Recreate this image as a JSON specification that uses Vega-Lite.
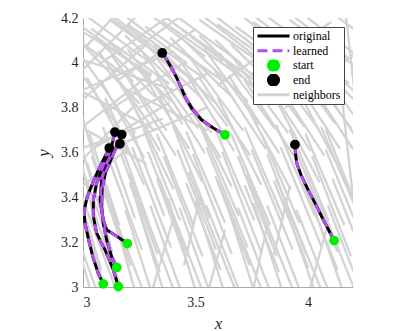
{
  "$schema": "https://vega.github.io/schema/vega-lite/v6.json",
  "width": 270,
  "height": 269,
  "autosize": "none",
  "padding": {"left": 83, "top": 18, "right": 66, "bottom": 44},
  "background": "white",
  "config": {
    "view": {"stroke": null},
    "font": "Liberation Serif",
    "axis": {
      "domainColor": "#a8a8a8",
      "domainWidth": 1,
      "ticks": false,
      "grid": false,
      "labelFont": "Liberation Serif",
      "labelFontSize": 14,
      "labelColor": "#262626",
      "titleFont": "Liberation Serif",
      "titleFontSize": 17,
      "titleFontStyle": "italic",
      "titleFontWeight": "normal",
      "titleColor": "#262626"
    },
    "legend": {
      "title": null,
      "orient": "top-right",
      "offset": 9,
      "padding": 3,
      "strokeColor": "#444444",
      "fillColor": "white",
      "symbolType": "stroke",
      "symbolSize": 1024,
      "symbolStrokeWidth": 3,
      "clipHeight": 12,
      "labelFont": "Liberation Serif",
      "labelFontSize": 12,
      "labelColor": "black",
      "labelOffset": 2,
      "rowPadding": 2.7
    }
  },
  "datasets": {
    "nb": [
      {"x": 3.04, "y": 2.96, "x2": 2.94, "y2": 3.32},
      {"x": 3.11, "y": 2.95, "x2": 2.99, "y2": 3.36},
      {"x": 3.18, "y": 2.97, "x2": 3.05, "y2": 3.33},
      {"x": 3.24, "y": 2.95, "x2": 3.12, "y2": 3.38},
      {"x": 3.31, "y": 2.96, "x2": 3.19, "y2": 3.34},
      {"x": 3.37, "y": 2.94, "x2": 3.24, "y2": 3.37},
      {"x": 3.44, "y": 2.97, "x2": 3.30, "y2": 3.36},
      {"x": 3.51, "y": 2.95, "x2": 3.38, "y2": 3.39},
      {"x": 3.57, "y": 2.96, "x2": 3.43, "y2": 3.35},
      {"x": 3.64, "y": 2.94, "x2": 3.50, "y2": 3.38},
      {"x": 3.70, "y": 2.97, "x2": 3.55, "y2": 3.36},
      {"x": 3.77, "y": 2.95, "x2": 3.63, "y2": 3.40},
      {"x": 3.84, "y": 2.96, "x2": 3.69, "y2": 3.35},
      {"x": 3.90, "y": 2.94, "x2": 3.76, "y2": 3.37},
      {"x": 3.97, "y": 2.97, "x2": 3.82, "y2": 3.36},
      {"x": 4.04, "y": 2.95, "x2": 3.89, "y2": 3.39},
      {"x": 4.10, "y": 2.96, "x2": 3.95, "y2": 3.34},
      {"x": 4.17, "y": 2.94, "x2": 4.02, "y2": 3.37},
      {"x": 4.24, "y": 2.97, "x2": 4.09, "y2": 3.36},
      {"x": 3.08, "y": 3.08, "x2": 2.97, "y2": 3.45},
      {"x": 3.21, "y": 3.10, "x2": 3.09, "y2": 3.47},
      {"x": 3.34, "y": 3.07, "x2": 3.21, "y2": 3.46},
      {"x": 3.47, "y": 3.09, "x2": 3.33, "y2": 3.48},
      {"x": 3.61, "y": 3.08, "x2": 3.46, "y2": 3.46},
      {"x": 3.74, "y": 3.10, "x2": 3.59, "y2": 3.49},
      {"x": 3.87, "y": 3.07, "x2": 3.72, "y2": 3.45},
      {"x": 4.00, "y": 3.09, "x2": 3.85, "y2": 3.47},
      {"x": 4.13, "y": 3.08, "x2": 3.98, "y2": 3.46},
      {"x": 4.26, "y": 3.10, "x2": 4.11, "y2": 3.48},
      {"x": 3.09, "y": 3.30, "x2": 2.97, "y2": 3.70},
      {"x": 3.16, "y": 3.28, "x2": 3.03, "y2": 3.68},
      {"x": 3.23, "y": 3.31, "x2": 3.09, "y2": 3.71},
      {"x": 3.29, "y": 3.29, "x2": 3.15, "y2": 3.69},
      {"x": 3.36, "y": 3.32, "x2": 3.21, "y2": 3.72},
      {"x": 3.43, "y": 3.30, "x2": 3.27, "y2": 3.70},
      {"x": 3.49, "y": 3.28, "x2": 3.33, "y2": 3.68},
      {"x": 3.56, "y": 3.31, "x2": 3.40, "y2": 3.72},
      {"x": 3.63, "y": 3.29, "x2": 3.46, "y2": 3.69},
      {"x": 3.69, "y": 3.32, "x2": 3.52, "y2": 3.72},
      {"x": 3.76, "y": 3.30, "x2": 3.59, "y2": 3.70},
      {"x": 3.83, "y": 3.28, "x2": 3.66, "y2": 3.68},
      {"x": 3.89, "y": 3.31, "x2": 3.72, "y2": 3.71},
      {"x": 3.96, "y": 3.29, "x2": 3.79, "y2": 3.69},
      {"x": 4.03, "y": 3.32, "x2": 3.86, "y2": 3.72},
      {"x": 4.09, "y": 3.30, "x2": 3.92, "y2": 3.70},
      {"x": 4.16, "y": 3.28, "x2": 3.99, "y2": 3.68},
      {"x": 4.23, "y": 3.31, "x2": 4.06, "y2": 3.71},
      {"x": 3.27, "y": 3.46, "x2": 3.10, "y2": 3.84},
      {"x": 3.40, "y": 3.44, "x2": 3.22, "y2": 3.82},
      {"x": 3.53, "y": 3.47, "x2": 3.34, "y2": 3.85},
      {"x": 3.66, "y": 3.45, "x2": 3.47, "y2": 3.83},
      {"x": 3.79, "y": 3.46, "x2": 3.60, "y2": 3.84},
      {"x": 3.92, "y": 3.44, "x2": 3.72, "y2": 3.82},
      {"x": 4.05, "y": 3.47, "x2": 3.85, "y2": 3.85},
      {"x": 4.18, "y": 3.45, "x2": 3.98, "y2": 3.83},
      {"x": 3.20, "y": 3.60, "x2": 3.02, "y2": 3.93},
      {"x": 3.27, "y": 3.58, "x2": 3.08, "y2": 3.92},
      {"x": 3.34, "y": 3.61, "x2": 3.14, "y2": 3.95},
      {"x": 3.41, "y": 3.59, "x2": 3.20, "y2": 3.93},
      {"x": 3.47, "y": 3.62, "x2": 3.26, "y2": 3.96},
      {"x": 3.54, "y": 3.60, "x2": 3.33, "y2": 3.94},
      {"x": 3.61, "y": 3.58, "x2": 3.40, "y2": 3.92},
      {"x": 3.67, "y": 3.61, "x2": 3.46, "y2": 3.95},
      {"x": 3.74, "y": 3.59, "x2": 3.52, "y2": 3.93},
      {"x": 3.81, "y": 3.62, "x2": 3.59, "y2": 3.96},
      {"x": 3.87, "y": 3.60, "x2": 3.65, "y2": 3.94},
      {"x": 3.94, "y": 3.58, "x2": 3.72, "y2": 3.92},
      {"x": 4.01, "y": 3.61, "x2": 3.79, "y2": 3.95},
      {"x": 4.07, "y": 3.59, "x2": 3.85, "y2": 3.93},
      {"x": 4.14, "y": 3.62, "x2": 3.92, "y2": 3.96},
      {"x": 4.21, "y": 3.60, "x2": 3.99, "y2": 3.94},
      {"x": 4.27, "y": 3.58, "x2": 4.05, "y2": 3.92},
      {"x": 3.25, "y": 3.82, "x2": 3.00, "y2": 4.08},
      {"x": 3.32, "y": 3.85, "x2": 3.06, "y2": 4.11},
      {"x": 3.39, "y": 3.83, "x2": 3.12, "y2": 4.09},
      {"x": 3.46, "y": 3.86, "x2": 3.19, "y2": 4.12},
      {"x": 3.53, "y": 3.84, "x2": 3.26, "y2": 4.10},
      {"x": 3.59, "y": 3.82, "x2": 3.32, "y2": 4.08},
      {"x": 3.66, "y": 3.85, "x2": 3.39, "y2": 4.11},
      {"x": 3.73, "y": 3.83, "x2": 3.46, "y2": 4.09},
      {"x": 3.79, "y": 3.86, "x2": 3.52, "y2": 4.12},
      {"x": 3.86, "y": 3.84, "x2": 3.59, "y2": 4.10},
      {"x": 3.93, "y": 3.82, "x2": 3.66, "y2": 4.08},
      {"x": 3.99, "y": 3.85, "x2": 3.72, "y2": 4.11},
      {"x": 4.06, "y": 3.83, "x2": 3.79, "y2": 4.09},
      {"x": 4.13, "y": 3.86, "x2": 3.86, "y2": 4.12},
      {"x": 4.20, "y": 3.84, "x2": 3.93, "y2": 4.10},
      {"x": 4.26, "y": 3.82, "x2": 3.99, "y2": 4.08},
      {"x": 3.30, "y": 4.00, "x2": 3.00, "y2": 4.22},
      {"x": 3.38, "y": 4.02, "x2": 3.08, "y2": 4.25},
      {"x": 3.46, "y": 4.00, "x2": 3.16, "y2": 4.23},
      {"x": 3.54, "y": 4.03, "x2": 3.24, "y2": 4.26},
      {"x": 3.62, "y": 4.01, "x2": 3.32, "y2": 4.24},
      {"x": 3.70, "y": 4.00, "x2": 3.40, "y2": 4.22},
      {"x": 3.78, "y": 4.02, "x2": 3.48, "y2": 4.25},
      {"x": 3.86, "y": 4.00, "x2": 3.56, "y2": 4.23},
      {"x": 3.94, "y": 4.03, "x2": 3.64, "y2": 4.26},
      {"x": 4.02, "y": 4.01, "x2": 3.72, "y2": 4.24},
      {"x": 4.10, "y": 4.00, "x2": 3.80, "y2": 4.22},
      {"x": 4.18, "y": 4.02, "x2": 3.88, "y2": 4.25},
      {"x": 4.26, "y": 4.00, "x2": 3.96, "y2": 4.23},
      {"x": 2.98, "y": 3.55, "x2": 3.22, "y2": 3.80},
      {"x": 2.98, "y": 3.70, "x2": 3.30, "y2": 3.95},
      {"x": 2.98, "y": 3.82, "x2": 3.28, "y2": 4.08},
      {"x": 2.98, "y": 3.95, "x2": 3.25, "y2": 4.22},
      {"x": 3.02, "y": 4.08, "x2": 3.15, "y2": 4.22},
      {"x": 3.05, "y": 3.62, "x2": 3.38, "y2": 3.82},
      {"x": 3.10, "y": 3.78, "x2": 3.45, "y2": 4.00},
      {"x": 3.15, "y": 3.92, "x2": 3.50, "y2": 4.15},
      {"x": 3.22, "y": 4.05, "x2": 3.45, "y2": 4.22},
      {"x": 3.32, "y": 3.70, "x2": 2.98, "y2": 3.88},
      {"x": 3.40, "y": 3.88, "x2": 2.98, "y2": 4.02},
      {"x": 3.30, "y": 3.95, "x2": 2.98, "y2": 4.15},
      {"x": 3.28, "y": 3.55, "x2": 2.98, "y2": 3.72},
      {"x": 3.05, "y": 3.30, "x2": 2.98, "y2": 3.62},
      {"x": 3.10, "y": 3.40, "x2": 3.00, "y2": 3.75},
      {"x": 3.12, "y": 3.20, "x2": 3.02, "y2": 3.55},
      {"x": 3.60, "y": 3.90, "x2": 3.95, "y2": 4.15},
      {"x": 3.75, "y": 3.95, "x2": 4.10, "y2": 4.18},
      {"x": 3.90, "y": 3.80, "x2": 4.22, "y2": 4.05},
      {"x": 4.20, "y": 3.40, "x2": 4.15, "y2": 3.85},
      {"x": 4.22, "y": 3.75, "x2": 4.17, "y2": 4.20},
      {"x": 3.13, "y": 3.16, "x2": 2.97, "y2": 3.60},
      {"x": 3.19, "y": 3.14, "x2": 3.04, "y2": 3.58},
      {"x": 3.26, "y": 3.17, "x2": 3.10, "y2": 3.61},
      {"x": 3.33, "y": 3.15, "x2": 3.17, "y2": 3.59},
      {"x": 3.39, "y": 3.18, "x2": 3.22, "y2": 3.62},
      {"x": 3.46, "y": 3.16, "x2": 3.29, "y2": 3.60},
      {"x": 3.53, "y": 3.14, "x2": 3.36, "y2": 3.58},
      {"x": 3.59, "y": 3.17, "x2": 3.42, "y2": 3.61},
      {"x": 3.66, "y": 3.15, "x2": 3.49, "y2": 3.59},
      {"x": 3.73, "y": 3.18, "x2": 3.55, "y2": 3.62},
      {"x": 3.79, "y": 3.16, "x2": 3.62, "y2": 3.60},
      {"x": 3.86, "y": 3.14, "x2": 3.69, "y2": 3.58},
      {"x": 3.93, "y": 3.17, "x2": 3.75, "y2": 3.61},
      {"x": 3.99, "y": 3.15, "x2": 3.82, "y2": 3.59},
      {"x": 4.06, "y": 3.18, "x2": 3.88, "y2": 3.62},
      {"x": 4.13, "y": 3.16, "x2": 3.95, "y2": 3.60},
      {"x": 4.19, "y": 3.14, "x2": 4.02, "y2": 3.58},
      {"x": 4.26, "y": 3.17, "x2": 4.08, "y2": 3.61},
      {"x": 3.07, "y": 2.96, "x2": 2.88, "y2": 3.48},
      {"x": 3.15, "y": 2.98, "x2": 2.96, "y2": 3.50},
      {"x": 3.28, "y": 2.95, "x2": 3.08, "y2": 3.47},
      {"x": 3.41, "y": 2.97, "x2": 3.21, "y2": 3.50},
      {"x": 3.54, "y": 2.96, "x2": 3.34, "y2": 3.48},
      {"x": 3.68, "y": 2.98, "x2": 3.47, "y2": 3.51},
      {"x": 3.81, "y": 2.95, "x2": 3.60, "y2": 3.47},
      {"x": 3.94, "y": 2.97, "x2": 3.73, "y2": 3.50},
      {"x": 4.07, "y": 2.96, "x2": 3.86, "y2": 3.48},
      {"x": 4.21, "y": 2.98, "x2": 4.00, "y2": 3.51},
      {"x": 4.28, "y": 3.20, "x2": 4.08, "y2": 3.70},
      {"x": 3.16, "y": 3.71, "x2": 2.94, "y2": 4.03},
      {"x": 3.23, "y": 3.69, "x2": 3.00, "y2": 4.02},
      {"x": 3.30, "y": 3.72, "x2": 3.07, "y2": 4.05},
      {"x": 3.37, "y": 3.70, "x2": 3.13, "y2": 4.03},
      {"x": 3.44, "y": 3.73, "x2": 3.20, "y2": 4.06},
      {"x": 3.51, "y": 3.71, "x2": 3.27, "y2": 4.04},
      {"x": 3.57, "y": 3.69, "x2": 3.33, "y2": 4.02},
      {"x": 3.64, "y": 3.72, "x2": 3.40, "y2": 4.05},
      {"x": 3.71, "y": 3.70, "x2": 3.47, "y2": 4.03},
      {"x": 3.78, "y": 3.73, "x2": 3.54, "y2": 4.06},
      {"x": 3.85, "y": 3.71, "x2": 3.61, "y2": 4.04},
      {"x": 3.91, "y": 3.69, "x2": 3.67, "y2": 4.02},
      {"x": 3.98, "y": 3.72, "x2": 3.74, "y2": 4.05},
      {"x": 4.05, "y": 3.70, "x2": 3.81, "y2": 4.03},
      {"x": 4.12, "y": 3.73, "x2": 3.88, "y2": 4.06},
      {"x": 4.19, "y": 3.71, "x2": 3.95, "y2": 4.04},
      {"x": 4.26, "y": 3.69, "x2": 4.02, "y2": 4.02},
      {"x": 3.22, "y": 3.92, "x2": 2.90, "y2": 4.16},
      {"x": 3.30, "y": 3.94, "x2": 2.97, "y2": 4.18},
      {"x": 3.38, "y": 3.91, "x2": 3.04, "y2": 4.15},
      {"x": 3.46, "y": 3.95, "x2": 3.12, "y2": 4.19},
      {"x": 3.54, "y": 3.93, "x2": 3.20, "y2": 4.17},
      {"x": 3.62, "y": 3.92, "x2": 3.28, "y2": 4.16},
      {"x": 3.70, "y": 3.94, "x2": 3.36, "y2": 4.18},
      {"x": 3.78, "y": 3.91, "x2": 3.44, "y2": 4.15},
      {"x": 3.86, "y": 3.95, "x2": 3.52, "y2": 4.19},
      {"x": 3.94, "y": 3.93, "x2": 3.60, "y2": 4.17},
      {"x": 4.02, "y": 3.92, "x2": 3.68, "y2": 4.16},
      {"x": 4.10, "y": 3.94, "x2": 3.76, "y2": 4.18},
      {"x": 4.18, "y": 3.91, "x2": 3.84, "y2": 4.15},
      {"x": 4.26, "y": 3.95, "x2": 3.92, "y2": 4.19},
      {"x": 4.30, "y": 4.08, "x2": 4.00, "y2": 4.30},
      {"x": 3.00, "y": 3.62, "x2": 3.35, "y2": 3.75},
      {"x": 3.00, "y": 3.88, "x2": 3.40, "y2": 4.05},
      {"x": 3.08, "y": 4.00, "x2": 3.40, "y2": 4.22},
      {"x": 3.20, "y": 3.65, "x2": 3.55, "y2": 3.80},
      {"x": 3.25, "y": 3.80, "x2": 3.55, "y2": 3.95},
      {"x": 3.45, "y": 3.95, "x2": 3.10, "y2": 4.22},
      {"x": 3.55, "y": 3.70, "x2": 3.20, "y2": 3.88},
      {"x": 3.00, "y": 3.45, "x2": 3.20, "y2": 3.62},
      {"x": 3.30, "y": 2.96, "x2": 3.40, "y2": 3.30},
      {"x": 3.55, "y": 2.96, "x2": 3.63, "y2": 3.25},
      {"x": 3.75, "y": 2.96, "x2": 3.82, "y2": 3.28},
      {"x": 4.00, "y": 2.96, "x2": 4.08, "y2": 3.25},
      {"x": 3.45, "y": 3.10, "x2": 3.52, "y2": 3.40},
      {"x": 3.85, "y": 3.15, "x2": 3.92, "y2": 3.45}
    ],
    "tr": [
      {"id": "a", "k": 0, "x": 3.352, "y": 4.044},
      {"id": "a", "k": 1, "x": 3.372, "y": 4.014},
      {"id": "a", "k": 2, "x": 3.394, "y": 3.977},
      {"id": "a", "k": 3, "x": 3.424, "y": 3.917},
      {"id": "a", "k": 4, "x": 3.453, "y": 3.850},
      {"id": "a", "k": 5, "x": 3.483, "y": 3.798},
      {"id": "a", "k": 6, "x": 3.527, "y": 3.746},
      {"id": "a", "k": 7, "x": 3.579, "y": 3.709},
      {"id": "a", "k": 8, "x": 3.631, "y": 3.679},
      {"id": "b", "k": 0, "x": 3.942, "y": 3.635},
      {"id": "b", "k": 1, "x": 3.944, "y": 3.597},
      {"id": "b", "k": 2, "x": 3.950, "y": 3.553},
      {"id": "b", "k": 3, "x": 3.969, "y": 3.500},
      {"id": "b", "k": 4, "x": 3.997, "y": 3.441},
      {"id": "b", "k": 5, "x": 4.031, "y": 3.374},
      {"id": "b", "k": 6, "x": 4.068, "y": 3.300},
      {"id": "b", "k": 7, "x": 4.116, "y": 3.207},
      {"id": "c1", "k": 0, "x": 3.117, "y": 3.620},
      {"id": "c1", "k": 1, "x": 3.105, "y": 3.597},
      {"id": "c1", "k": 2, "x": 3.076, "y": 3.538},
      {"id": "c1", "k": 3, "x": 3.046, "y": 3.471},
      {"id": "c1", "k": 4, "x": 3.019, "y": 3.404},
      {"id": "c1", "k": 5, "x": 3.005, "y": 3.340},
      {"id": "c1", "k": 6, "x": 3.008, "y": 3.290},
      {"id": "c1", "k": 7, "x": 3.025, "y": 3.210},
      {"id": "c1", "k": 8, "x": 3.045, "y": 3.130},
      {"id": "c1", "k": 9, "x": 3.068, "y": 3.060},
      {"id": "c1", "k": 10, "x": 3.090, "y": 3.014},
      {"id": "c2", "k": 0, "x": 3.142, "y": 3.691},
      {"id": "c2", "k": 1, "x": 3.130, "y": 3.640},
      {"id": "c2", "k": 2, "x": 3.110, "y": 3.590},
      {"id": "c2", "k": 3, "x": 3.085, "y": 3.530},
      {"id": "c2", "k": 4, "x": 3.060, "y": 3.460},
      {"id": "c2", "k": 5, "x": 3.046, "y": 3.389},
      {"id": "c2", "k": 6, "x": 3.046, "y": 3.314},
      {"id": "c2", "k": 7, "x": 3.061, "y": 3.240},
      {"id": "c2", "k": 8, "x": 3.098, "y": 3.165},
      {"id": "c2", "k": 9, "x": 3.135, "y": 3.076},
      {"id": "c2", "k": 10, "x": 3.157, "y": 3.002},
      {"id": "c3", "k": 0, "x": 3.172, "y": 3.680},
      {"id": "c3", "k": 1, "x": 3.150, "y": 3.630},
      {"id": "c3", "k": 2, "x": 3.125, "y": 3.570},
      {"id": "c3", "k": 3, "x": 3.100, "y": 3.510},
      {"id": "c3", "k": 4, "x": 3.085, "y": 3.440},
      {"id": "c3", "k": 5, "x": 3.083, "y": 3.360},
      {"id": "c3", "k": 6, "x": 3.090, "y": 3.285},
      {"id": "c3", "k": 7, "x": 3.105, "y": 3.210},
      {"id": "c3", "k": 8, "x": 3.127, "y": 3.136},
      {"id": "c3", "k": 9, "x": 3.150, "y": 3.087},
      {"id": "c4", "k": 0, "x": 3.164, "y": 3.639},
      {"id": "c4", "k": 1, "x": 3.135, "y": 3.604},
      {"id": "c4", "k": 2, "x": 3.105, "y": 3.552},
      {"id": "c4", "k": 3, "x": 3.083, "y": 3.478},
      {"id": "c4", "k": 4, "x": 3.076, "y": 3.389},
      {"id": "c4", "k": 5, "x": 3.090, "y": 3.300},
      {"id": "c4", "k": 6, "x": 3.105, "y": 3.255},
      {"id": "c4", "k": 7, "x": 3.157, "y": 3.222},
      {"id": "c4", "k": 8, "x": 3.197, "y": 3.194}
    ],
    "pt": [
      {"s": "start", "x": 3.631, "y": 3.679},
      {"s": "start", "x": 4.116, "y": 3.207},
      {"s": "start", "x": 3.090, "y": 3.014},
      {"s": "start", "x": 3.157, "y": 3.002},
      {"s": "start", "x": 3.150, "y": 3.087},
      {"s": "start", "x": 3.197, "y": 3.194},
      {"s": "end", "x": 3.352, "y": 4.044},
      {"s": "end", "x": 3.942, "y": 3.635},
      {"s": "end", "x": 3.117, "y": 3.620},
      {"s": "end", "x": 3.142, "y": 3.691},
      {"s": "end", "x": 3.172, "y": 3.680},
      {"s": "end", "x": 3.164, "y": 3.639}
    ]
  },
  "layer": [
    {
      "data": {"name": "nb"},
      "mark": {"type": "rule", "strokeWidth": 2.3, "strokeCap": "round", "clip": true},
      "encoding": {
        "x": {"field": "x", "type": "quantitative", "scale": {"domain": [3, 4.2], "nice": false, "zero": false},
              "axis": {"values": [3, 3.5, 4], "format": "~g", "title": "x", "labelPadding": 8, "titlePadding": 6}},
        "y": {"field": "y", "type": "quantitative", "scale": {"domain": [3, 4.2], "nice": false, "zero": false},
              "axis": {"values": [3, 3.2, 3.4, 3.6, 3.8, 4, 4.2], "format": "~g", "title": "y", "labelPadding": 5, "titlePadding": 8}},
        "x2": {"field": "x2"},
        "y2": {"field": "y2"},
        "color": {
          "datum": "neighbors",
          "type": "nominal",
          "scale": {"domain": ["original", "learned", "start", "end", "neighbors"], "range": ["#000000", "#b44cf0", "#00f000", "#000000", "#d3d3d3"]},
          "legend": {
            "encode": {
              "symbols": {
                "update": {
                  "shape": {"signal": "datum.value == 'start' || datum.value == 'end' ? 'circle' : 'stroke'"},
                  "size": {"signal": "datum.value == 'start' || datum.value == 'end' ? 100 : 1024"},
                  "fill": {"signal": "datum.value == 'start' ? '#00f000' : datum.value == 'end' ? '#000000' : 'transparent'"},
                  "stroke": {"signal": "datum.value == 'original' ? '#000000' : datum.value == 'learned' ? '#b44cf0' : datum.value == 'neighbors' ? '#d3d3d3' : 'transparent'"},
                  "strokeDash": {"signal": "datum.value == 'learned' ? [10, 5] : [1, 0]"},
                  "strokeWidth": {"value": 3},
                  "opacity": {"value": 1}
                }
              }
            }
          }
        }
      }
    },
    {
      "data": {"name": "tr"},
      "mark": {"type": "line", "strokeWidth": 3, "clip": true},
      "encoding": {
        "x": {"field": "x", "type": "quantitative"},
        "y": {"field": "y", "type": "quantitative"},
        "detail": {"field": "id"},
        "order": {"field": "k", "type": "quantitative"},
        "color": {"datum": "original", "type": "nominal"}
      }
    },
    {
      "data": {"name": "tr"},
      "mark": {"type": "line", "strokeWidth": 3, "strokeDash": [9, 7], "clip": true},
      "encoding": {
        "x": {"field": "x", "type": "quantitative"},
        "y": {"field": "y", "type": "quantitative"},
        "detail": {"field": "id"},
        "order": {"field": "k", "type": "quantitative"},
        "color": {"datum": "learned", "type": "nominal"}
      }
    },
    {
      "data": {"name": "pt"},
      "mark": {"type": "point", "filled": true, "size": 95, "opacity": 1, "shape": "circle"},
      "encoding": {
        "x": {"field": "x", "type": "quantitative"},
        "y": {"field": "y", "type": "quantitative"},
        "color": {"field": "s", "type": "nominal"}
      }
    }
  ]
}
